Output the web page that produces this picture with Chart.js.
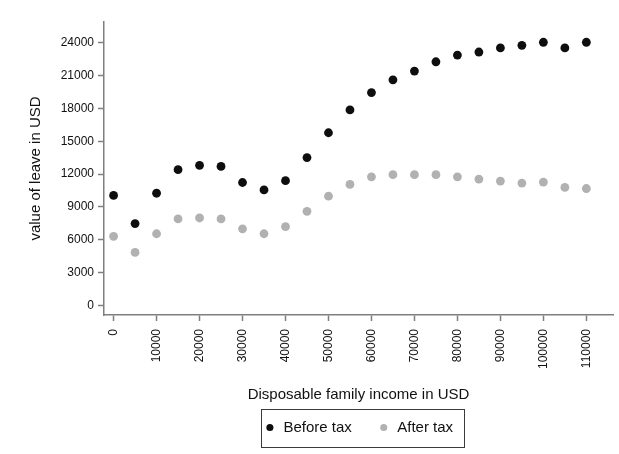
<!DOCTYPE html>
<html>
<head>
<meta charset="utf-8">
<script src="https://cdn.jsdelivr.net/npm/chart.js@4/dist/chart.umd.min.js"></script>
<style>
  html, body { margin: 0; padding: 0; background: #fff; }
</style>
</head>
<body>
<canvas id="chart" width="619" height="454"></canvas>
<script>
// values (USD)
const incomes = [0, 5000, 10000, 15000, 20000, 25000, 30000, 35000, 40000, 45000, 50000, 55000,
  60000, 65000, 70000, 75000, 80000, 85000, 90000, 95000, 100000, 105000, 110000];
const beforeTax = [10050, 7480, 10250, 12400, 12800, 12700, 11230, 10550, 11400, 13500, 15770, 17850,
  19440, 20600, 21400, 22250, 22860, 23140, 23510, 23750, 24030, 23510, 24030];
const afterTax = [6320, 4850, 6550, 7900, 7990, 7900, 7000, 6550, 7200, 8600, 9980, 11050,
  11750, 11940, 11940, 11940, 11750, 11540, 11360, 11180, 11270, 10780, 10680];
const xTicks = [0, 10000, 20000, 30000, 40000, 50000, 60000, 70000, 80000, 90000, 100000, 110000];
const yTicks = [0, 3000, 6000, 9000, 12000, 15000, 18000, 21000, 24000];

const FONT = "'Liberation Sans', Arial, sans-serif";
const AXIS = "#7f7f7f";

const toPoints = ys => incomes.map((x, i) => ({ x: x, y: ys[i] }));

// Stata-like frame around the legend items
const legendBox = {
  id: "legendBox",
  afterDraw(chart) {
    const hb = chart.legend.legendHitBoxes;
    if (!hb || !hb.length) return;
    const last = hb[hb.length - 1];
    const left = hb[0].left - 3;
    const right = last.left + last.width + 11;
    const mid = hb[0].top + hb[0].height / 2;
    const ctx = chart.ctx;
    ctx.save();
    ctx.strokeStyle = "#3a3a3a";
    ctx.lineWidth = 1;
    ctx.strokeRect(Math.round(left) + 0.5, Math.round(mid - 19) + 0.5, Math.round(right - left), 38);
    ctx.restore();
  }
};

const ctx = document.getElementById("chart").getContext("2d");
new Chart(ctx, {
  type: "scatter",
  data: {
    datasets: [
      { label: "Before tax", data: toPoints(beforeTax), backgroundColor: "#0e0e0e", borderWidth: 0, pointRadius: 4.4, pointStyle: "circle" },
      { label: "After tax", data: toPoints(afterTax), backgroundColor: "#b1b1b1", borderWidth: 0, pointRadius: 4.4, pointStyle: "circle" }
    ]
  },
  options: {
    responsive: false,
    animation: false,
    layout: { padding: { left: 0, top: 22, right: 6, bottom: 9 } },
    plugins: {
      legend: {
        position: "bottom",
        fullSize: false,
        labels: {
          usePointStyle: true, pointStyle: "circle",
          boxWidth: 12, boxHeight: 5, padding: 26,
          color: "#111", font: { family: FONT, size: 15 }
        }
      },
      tooltip: { enabled: false }
    },
    scales: {
      x: {
        type: "linear", min: -2230, max: 116200,
        afterBuildTicks: s => { s.ticks = xTicks.map(v => ({ value: v })); },
        afterFit: s => { s.height = 79; },
        ticks: { minRotation: 90, maxRotation: 90, padding: 8, color: "#111", font: { family: FONT, size: 12 }, callback: v => String(v) },
        grid: { drawOnChartArea: false, tickLength: 6, tickColor: AXIS, tickWidth: 1.5 },
        border: { color: AXIS, width: 1.5 },
        title: { display: true, text: "Disposable family income in USD", color: "#111", font: { family: FONT, size: 15 }, padding: { top: 0, bottom: -10 } }
      },
      y: {
        min: -866, max: 25880,
        afterBuildTicks: s => { s.ticks = yTicks.map(v => ({ value: v })); },
        afterFit: s => { s.width = 104; },
        ticks: { padding: 4, color: "#111", font: { family: FONT, size: 12 }, callback: v => String(v) },
        grid: { drawOnChartArea: false, tickLength: 6, tickColor: AXIS, tickWidth: 1.5 },
        border: { color: AXIS, width: 1.5 },
        title: { display: true, text: "value of leave in USD", color: "#111", font: { family: FONT, size: 15 }, padding: { top: 27, bottom: 0 } }
      }
    }
  },
  plugins: [legendBox]
});
</script>
</body>
</html>
